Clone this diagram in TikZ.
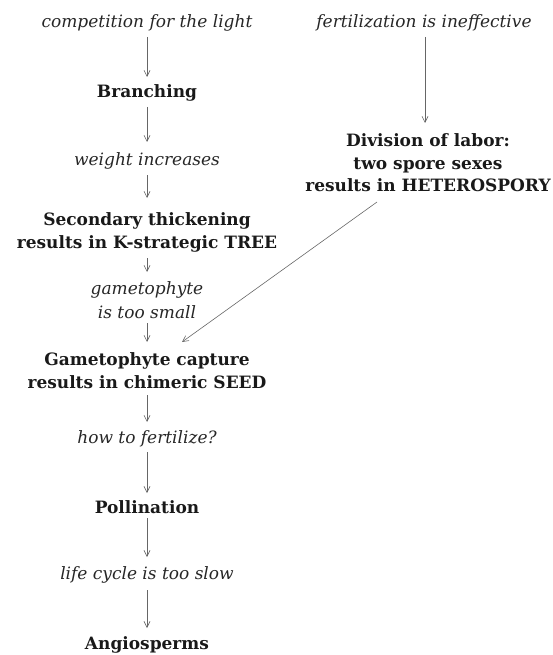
\documentclass[tikz,border=0pt]{standalone}
\usepackage{fontspec}
\setmainfont{DejaVu Serif}
\usetikzlibrary{arrows.meta,calc}
\begin{document}
\begin{tikzpicture}[x=1pt,y=-1pt,
  lab/.style={font=\itshape\fontsize{17}{23.5}\selectfont, align=center, inner sep=0pt, anchor=base, text=black!85},
  res/.style={font=\bfseries\fontsize{17}{23}\selectfont, align=center, inner sep=0pt, anchor=base, text=black!90},
  conn/.style={draw=black!60, line width=0.6pt, -{Straight Barb[length=6pt,width=6pt]}}]
\useasboundingbox (0,0) rectangle (553,655);
\node[lab] (comp) at (147,28) {competition for the light};
\node[lab] (fert) at (424,28) {fertilization is ineffective};
\node[res] (branch) at (147,98) {Branching};
\node[lab] (weight) at (147,166) {weight increases};
\node[res, font=\bfseries\fontsize{17}{22}\selectfont] (div) at (428,191) {Division of labor:\\two spore sexes\\results in HETEROSPORY};
\node[res] (second) at (147,248) {Secondary thickening\\results in K-strategic TREE};
\node[lab] (gam) at (147,318) {gametophyte\\is too small};
\node[res] (capt) at (147,388) {Gametophyte capture\\results in chimeric SEED};
\node[lab] (fertq) at (147,443) {how to fertilize?};
\node[res] (poll) at (147,513) {Pollination};
\node[lab] (life) at (147,579) {life cycle is too slow};
\node[res] (angio) at (147,649) {Angiosperms};
\draw[conn] ($(comp.base)+(0,9)$) -- ($(branch.base)+(0,-21)$);
\draw[conn] ($(branch.base)+(0,9)$) -- ($(weight.base)+(0,-24)$);
\draw[conn] ($(weight.base)+(0,9)$) -- ($(second.base)+(0,-50)$);
\draw[conn] ($(second.base)+(0,10)$) -- ($(gam.base)+(0,-46)$);
\draw[conn] ($(gam.base)+(0,5)$) -- ($(capt.base)+(0,-46)$);
\draw[conn] ($(capt.base)+(0,7)$) -- ($(fertq.base)+(0,-21)$);
\draw[conn] ($(fertq.base)+(0,9)$) -- ($(poll.base)+(0,-20)$);
\draw[conn] ($(poll.base)+(0,5)$) -- ($(life.base)+(0,-22)$);
\draw[conn] ($(life.base)+(0,11)$) -- ($(angio.base)+(0,-21)$);
\draw[conn] ($(fert.base)+(1,9)$) -- ($(div.base)+(-3,-68)$);
\draw[conn] ($(div.base)+(-51,11)$) -- ($(capt.base)+(35,-46)$);
\end{tikzpicture}
\end{document}
